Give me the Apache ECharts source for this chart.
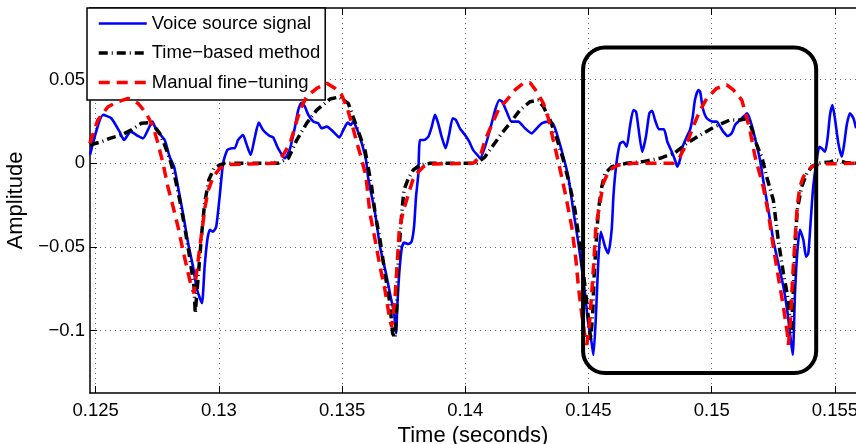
<!DOCTYPE html>
<html>
<head>
<meta charset="utf-8">
<script src="https://cdn.jsdelivr.net/npm/echarts@6/dist/echarts.min.js"></script>
<style>
  html, body { margin: 0; padding: 0; background: #fff; }
  #chart { width: 856px; height: 444px; }
</style>
</head>
<body>
<div id="chart"></div>
<script>
// Axis ticks and visible ranges
const timeTicks = [0.125, 0.13, 0.135, 0.14, 0.145, 0.15, 0.155];
const ampTicks = [-0.1, -0.05, 0, 0.05];
const timeRange = [0.124769, 0.155856];
const ampRange = [-0.13722, 0.09277];

// Highlighted region around the last two glottal cycles
const boxTime = [0.14478, 0.15424];
const boxAmp = [-0.12527, 0.06918];

const seriesNames = ['Voice source signal', 'Time\u2212based method', 'Manual fine\u2212tuning'];

// [time (s), amplitude]
const voiceSignal = [
  [0.12477,0.0050],[0.12530,0.0289],[0.12563,0.0269],[0.12597,0.0189],[0.12615,0.0139],[0.12642,0.0189],
  [0.12672,0.0163],[0.12692,0.0149],[0.12712,0.0199],[0.12730,0.0249],[0.12746,0.0199],[0.12780,0.0139],
  [0.12800,0.0039],[0.12818,-0.0020],[0.12834,-0.0140],[0.12854,-0.0297],[0.12875,-0.0476],[0.12895,-0.0618],
  [0.12912,-0.0757],[0.12931,-0.0835],[0.12942,-0.0618],[0.12953,-0.0458],[0.12963,-0.0398],[0.12976,-0.0409],
  [0.12989,-0.0379],[0.13003,-0.0200],[0.13017,0],[0.13034,0.0079],[0.13053,0.0090],[0.13064,0.0090],
  [0.13078,0.0139],[0.13098,0.0169],[0.13111,0.0119],[0.13129,0.0050],[0.13145,0.0149],[0.13162,0.0243],
  [0.13179,0.0199],[0.13206,0.0163],[0.13220,0.0155],[0.13240,0.0090],[0.13268,0.0030],[0.13289,0.0090],
  [0.13309,0.0219],[0.13322,0.0318],[0.13336,0.0362],[0.13349,0.0338],[0.13363,0.0289],[0.13383,0.0249],
  [0.13403,0.0239],[0.13417,0.0209],[0.13438,0.0219],[0.13464,0.0189],[0.13489,0.0155],[0.13505,0.0199],
  [0.13523,0.0243],[0.13535,0.0229],[0.13545,0.0249],[0.13562,0.0199],[0.13580,0.0119],[0.13597,0.0020],
  [0.13606,-0.0088],[0.13634,-0.0299],[0.13654,-0.0498],[0.13678,-0.0657],[0.13697,-0.0797],[0.13711,-0.0896],
  [0.13719,-0.1016],[0.13724,-0.0857],[0.13732,-0.0657],[0.13742,-0.0508],[0.13751,-0.0474],[0.13769,-0.0482],
  [0.13782,-0.0468],[0.13792,-0.0379],[0.13800,-0.0200],[0.13809,-0.0070],[0.13816,0.0139],[0.13832,0.0139],
  [0.13850,0.0159],[0.13864,0.0219],[0.13877,0.0289],[0.13890,0.0239],[0.13904,0.0159],[0.13920,0.0090],
  [0.13934,0.0169],[0.13949,0.0269],[0.13962,0.0259],[0.13978,0.0209],[0.13999,0.0169],[0.14016,0.0129],
  [0.14032,0.0079],[0.14049,0.0050],[0.14060,0.0030],[0.14080,0.0099],[0.14100,0.0199],[0.14121,0.0318],
  [0.14138,0.0378],[0.14150,0.0368],[0.14168,0.0308],[0.14188,0.0249],[0.14215,0.0249],[0.14242,0.0209],
  [0.14269,0.0179],[0.14290,0.0209],[0.14310,0.0239],[0.14337,0.0249],[0.14355,0.0239],[0.14371,0.0179],
  [0.14398,0.0039],[0.14418,-0.0080],[0.14438,-0.0279],[0.14459,-0.0478],[0.14472,-0.0618],[0.14486,-0.0777],
  [0.14499,-0.0956],[0.14513,-0.1075],[0.14520,-0.1145],[0.14530,-0.0916],[0.14540,-0.0578],[0.14550,-0.0409],
  [0.14567,-0.0498],[0.14580,-0.0538],[0.14594,-0.0398],[0.14601,-0.0200],[0.14608,-0.0070],[0.14617,0.0039],
  [0.14628,0.0119],[0.14641,0.0129],[0.14655,0.0099],[0.14668,0.0219],[0.14682,0.0318],[0.14693,0.0308],
  [0.14702,0.0219],[0.14718,0.0069],[0.14733,0.0159],[0.14747,0.0299],[0.14758,0.0314],[0.14770,0.0259],
  [0.14786,0.0203],[0.14806,0.0203],[0.14820,0.0129],[0.14838,0.0069],[0.14851,0.0020],[0.14860,-0.0020],
  [0.14871,0.0020],[0.14882,0.0099],[0.14899,0.0159],[0.14912,0.0199],[0.14923,0.0278],[0.14932,0.0378],
  [0.14946,0.0438],[0.14953,0.0428],[0.14964,0.0329],[0.14980,0.0269],[0.15004,0.0249],[0.15020,0.0249],
  [0.15034,0.0219],[0.15047,0.0189],[0.15065,0.0163],[0.15081,0.0179],[0.15095,0.0229],[0.15108,0.0249],
  [0.15126,0.0275],[0.15144,0.0299],[0.15162,0.0229],[0.15176,0.0149],[0.15196,0.0020],[0.15209,-0.0100],
  [0.15230,-0.0279],[0.15250,-0.0458],[0.15270,-0.0597],[0.15291,-0.0737],[0.15308,-0.0896],[0.15321,-0.1056],
  [0.15329,-0.1145],[0.15338,-0.0777],[0.15347,-0.0538],[0.15358,-0.0398],[0.15372,-0.0458],[0.15383,-0.0558],
  [0.15392,-0.0538],[0.15402,-0.0339],[0.15412,-0.0140],[0.15426,0.0020],[0.15437,0.0099],[0.15446,0.0090],
  [0.15460,0.0069],[0.15471,0.0159],[0.15480,0.0289],[0.15490,0.0348],[0.15500,0.0269],[0.15514,0.0119],
  [0.15528,0.0039],[0.15538,0.0119],[0.15548,0.0229],[0.15561,0.0299],[0.15575,0.0269],[0.15586,0.0209]
];

const timeBasedFit = [
  [0.12477,0.0109],[0.12523,0.0129],[0.12557,0.0149],[0.12604,0.0169],[0.12644,0.0199],[0.12685,0.0239],
  [0.12719,0.0243],[0.12739,0.0219],[0.12760,0.0179],[0.12780,0.0109],[0.12800,0.0030],[0.12821,-0.0080],
  [0.12841,-0.0219],[0.12861,-0.0379],[0.12881,-0.0558],[0.12899,-0.0737],[0.12904,-0.0896],[0.12915,-0.0697],
  [0.12929,-0.0438],[0.12942,-0.0239],[0.12959,-0.0100],[0.12980,-0.0030],[0.13003,-0.0010],[0.13024,0],
  [0.13240,0],[0.13282,0.0030],[0.13316,0.0139],[0.13356,0.0239],[0.13397,0.0318],[0.13451,0.0384],
  [0.13487,0.0396],[0.13525,0.0358],[0.13559,0.0219],[0.13593,0.0079],[0.13620,-0.0140],[0.13634,-0.0299],
  [0.13654,-0.0458],[0.13674,-0.0657],[0.13694,-0.0836],[0.13705,-0.1016],[0.13715,-0.1044],[0.13722,-0.0857],
  [0.13724,-0.0697],[0.13732,-0.0498],[0.13742,-0.0299],[0.13751,-0.0160],[0.13769,-0.0090],[0.13789,-0.0040],
  [0.13816,-0.0010],[0.13857,0],[0.14046,0],[0.14080,0.0039],[0.14114,0.0109],[0.14148,0.0179],
  [0.14181,0.0239],[0.14222,0.0318],[0.14263,0.0368],[0.14296,0.0378],[0.14317,0.0338],[0.14344,0.0259],
  [0.14371,0.0149],[0.14398,0.0020],[0.14425,-0.0140],[0.14445,-0.0279],[0.14466,-0.0498],[0.14486,-0.0737],
  [0.14499,-0.0916],[0.14509,-0.1056],[0.14517,-0.0896],[0.14522,-0.0697],[0.14530,-0.0498],[0.14540,-0.0279],
  [0.14554,-0.0140],[0.14567,-0.0060],[0.14594,-0.0020],[0.14655,0],[0.14722,0.0010],[0.14790,0.0030],
  [0.14851,0.0063],[0.14899,0.0119],[0.14953,0.0169],[0.15013,0.0219],[0.15074,0.0259],[0.15115,0.0259],
  [0.15149,0.0269],[0.15183,0.0109],[0.15203,0.0039],[0.15223,-0.0080],[0.15250,-0.0219],[0.15270,-0.0458],
  [0.15291,-0.0657],[0.15311,-0.0817],[0.15317,-0.0924],[0.15323,-0.1016],[0.15331,-0.0777],[0.15338,-0.0498],
  [0.15347,-0.0279],[0.15365,-0.0140],[0.15386,-0.0060],[0.15406,-0.0020],[0.15433,0],[0.15480,0.0008],
  [0.15507,0.0020],[0.15541,0.0005],[0.15586,0]
];

const manualFit = [
  [0.12476,0.0119],[0.12509,0.0259],[0.12550,0.0338],[0.12591,0.0368],[0.12631,0.0388],[0.12672,0.0358],
  [0.12705,0.0299],[0.12733,0.0219],[0.12753,0.0119],[0.12773,0],[0.12793,-0.0140],[0.12814,-0.0259],
  [0.12834,-0.0379],[0.12854,-0.0518],[0.12872,-0.0637],[0.12888,-0.0737],[0.12899,-0.0777],[0.12916,-0.0578],
  [0.12930,-0.0418],[0.12944,-0.0259],[0.12957,-0.0160],[0.12977,-0.0080],[0.13004,-0.0030],[0.13037,-0.0007],
  [0.13226,0],[0.13261,0.0050],[0.13289,0.0119],[0.13309,0.0219],[0.13329,0.0318],[0.13356,0.0398],
  [0.13397,0.0448],[0.13438,0.0478],[0.13471,0.0448],[0.13498,0.0408],[0.13519,0.0338],[0.13539,0.0239],
  [0.13559,0.0129],[0.13580,0.0020],[0.13597,-0.0080],[0.13613,-0.0299],[0.13634,-0.0458],[0.13654,-0.0618],
  [0.13674,-0.0757],[0.13694,-0.0936],[0.13701,-0.0976],[0.13715,-0.0797],[0.13722,-0.0637],[0.13732,-0.0398],
  [0.13746,-0.0299],[0.13762,-0.0219],[0.13787,-0.0100],[0.13803,-0.0060],[0.13830,-0.0020],[0.13870,-0.0004],
  [0.14032,0],[0.14060,0.0039],[0.14080,0.0139],[0.14107,0.0229],[0.14134,0.0318],[0.14168,0.0378],
  [0.14202,0.0438],[0.14235,0.0478],[0.14263,0.0481],[0.14290,0.0428],[0.14317,0.0358],[0.14337,0.0269],
  [0.14357,0.0139],[0.14373,0.0039],[0.14391,-0.0080],[0.14411,-0.0219],[0.14432,-0.0379],[0.14449,-0.0578],
  [0.14459,-0.0737],[0.14472,-0.0896],[0.14486,-0.1036],[0.14493,-0.1085],[0.14503,-0.0976],[0.14513,-0.0777],
  [0.14522,-0.0578],[0.14530,-0.0379],[0.14544,-0.0259],[0.14560,-0.0119],[0.14584,-0.0040],[0.14621,-0.0010],
  [0.14682,0],[0.14844,0],[0.14871,0.0039],[0.14899,0.0119],[0.14925,0.0219],[0.14953,0.0318],
  [0.14980,0.0388],[0.15020,0.0448],[0.15061,0.0468],[0.15088,0.0438],[0.15122,0.0378],[0.15139,0.0289],
  [0.15155,0.0199],[0.15176,0.0039],[0.15209,-0.0140],[0.15230,-0.0299],[0.15250,-0.0498],[0.15270,-0.0677],
  [0.15291,-0.0857],[0.15307,-0.1016],[0.15311,-0.1085],[0.15318,-0.0976],[0.15325,-0.0777],[0.15331,-0.0618],
  [0.15338,-0.0458],[0.15347,-0.0259],[0.15358,-0.0140],[0.15372,-0.0080],[0.15392,-0.0040],[0.15412,-0.0016],
  [0.15440,-0.0004],[0.15586,0]
];

const FONT = '"Liberation Sans", Arial, Helvetica, sans-serif';
const minusFmt = v => (v < 0 ? '\u2212' + String(Math.abs(v)) : String(v));
const gridDots = { show: true, lineStyle: { color: '#666', width: 1, type: [1, 4] } };

const lineStyles = [
  { color: '#0000ff', width: 2.6, join: 'round' },
  { color: '#000000', width: 3.5, type: [9, 4, 1, 4], cap: 'butt' },
  { color: '#ff0000', width: 3.5, type: [11, 7], cap: 'butt' }
];
const hiddenSymbol = { color: 'rgba(0,0,0,0)', borderColor: 'rgba(0,0,0,0)', borderWidth: 0 };

const chart = echarts.init(document.getElementById('chart'), null, { renderer: 'canvas' });

chart.setOption({
  animation: false,
  backgroundColor: '#fff',
  grid: { left: 90, right: 0, top: 8, bottom: 51, containLabel: false, outerBoundsMode: 'none' },
  legend: {
    left: 87, top: 8, orient: 'vertical',
    backgroundColor: '#fff', borderColor: '#000', borderWidth: 1.5,
    padding: [6, 5, 8, 10], itemGap: 10.5, itemWidth: 48, itemHeight: 14,
    textStyle: { fontSize: 18.5, color: '#000', fontFamily: FONT },
    itemStyle: hiddenSymbol,
    data: seriesNames.map((name, i) => ({ name, itemStyle: hiddenSymbol, lineStyle: lineStyles[i] }))
  },
  xAxis: [{
    type: 'value', position: 'bottom', min: timeRange[0], max: timeRange[1],
    name: 'Time (seconds)', nameLocation: 'middle', nameGap: 27,
    nameTextStyle: { fontSize: 22, color: '#000', fontFamily: FONT },
    axisLine: { show: true, onZero: false, lineStyle: { color: '#000', width: 1.5 } },
    axisTick: { show: true, inside: true, length: 7, customValues: timeTicks, lineStyle: { color: '#000', width: 1 } },
    axisLabel: { customValues: timeTicks, margin: 8, fontSize: 18.5, color: '#000', fontFamily: FONT, formatter: minusFmt },
    splitLine: gridDots
  }, {
    type: 'value', position: 'top', min: timeRange[0], max: timeRange[1],
    axisLine: { show: true, onZero: false, lineStyle: { color: '#000', width: 1.5 } },
    axisTick: { show: true, inside: true, length: 7, customValues: timeTicks, lineStyle: { color: '#000', width: 1 } },
    axisLabel: { show: false }, splitLine: { show: false }
  }],
  yAxis: {
    type: 'value', min: ampRange[0], max: ampRange[1],
    name: 'Amplitude', nameLocation: 'middle', nameGap: 60, nameRotate: 90,
    nameTextStyle: { fontSize: 22, color: '#000', fontFamily: FONT },
    axisLine: { show: true, onZero: false, lineStyle: { color: '#000', width: 1.5 } },
    axisTick: { show: true, inside: true, length: 7, customValues: ampTicks, lineStyle: { color: '#000', width: 1 } },
    axisLabel: { customValues: ampTicks, margin: 5, fontSize: 18.5, color: '#000', fontFamily: FONT, formatter: minusFmt },
    splitLine: gridDots
  },
  series: [
    { name: seriesNames[0], type: 'line', data: voiceSignal, symbol: 'none', xAxisIndex: 0, smooth: 0.2,
      lineStyle: lineStyles[0], itemStyle: { color: lineStyles[0].color }, z: 2 },
    { name: seriesNames[1], type: 'line', data: timeBasedFit, symbol: 'none', xAxisIndex: 0,
      lineStyle: lineStyles[1], itemStyle: { color: lineStyles[1].color }, z: 3 },
    { name: seriesNames[2], type: 'line', data: manualFit, symbol: 'none', xAxisIndex: 0,
      lineStyle: lineStyles[2], itemStyle: { color: lineStyles[2].color }, z: 4 }
  ]
});

// Rounded frame around the last two cycles, placed in data space
function drawFrame() {
  const p0 = chart.convertToPixel({ gridIndex: 0 }, [boxTime[0], boxAmp[1]]);
  const p1 = chart.convertToPixel({ gridIndex: 0 }, [boxTime[1], boxAmp[0]]);
  chart.setOption({
    graphic: [{
      type: 'rect', z: 100,
      shape: { x: p0[0], y: p0[1], width: p1[0] - p0[0], height: p1[1] - p0[1], r: 22 },
      style: { fill: 'none', stroke: '#000', lineWidth: 4 }
    }]
  });
}
drawFrame();
</script>
</body>
</html>
